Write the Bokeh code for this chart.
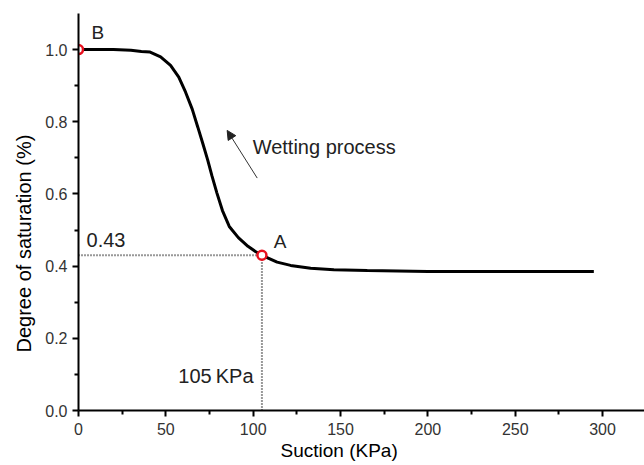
from bokeh.plotting import figure
from bokeh.models import (Range1d, FixedTicker, Label, Arrow, NormalHead, Title,
                          CustomJSTickFormatter)
from bokeh.embed import file_html
from bokeh.resources import INLINE

# Soil-water characteristic curve (wetting branch)
suction = [0, 10, 20, 30, 36, 41, 47, 52.7, 57.4, 61.3, 65.1, 68.3, 71.2, 73.9,
           76.4, 79.2, 82.4, 86.3, 91.5, 97.0, 101.5, 105, 113.7, 121.4, 132.9,
           146.2, 165.3, 200, 250, 295]
saturation = [1.0, 1.0, 1.0, 0.998, 0.995, 0.993, 0.980, 0.956, 0.924, 0.882,
              0.835, 0.785, 0.739, 0.695, 0.650, 0.603, 0.554, 0.510, 0.479,
              0.455, 0.440, 0.43, 0.411, 0.402, 0.394, 0.390, 0.388, 0.385,
              0.385, 0.385]

# Key points
point_names = ["B", "A"]
point_suction = [0, 105]
point_saturation = [1.0, 0.43]

x_ticks = [0, 50, 100, 150, 200, 250, 300]
x_minor = [25, 75, 125, 175, 225, 275, 325]
y_ticks = [0.0, 0.2, 0.4, 0.6, 0.8, 1.0]
y_minor = [0.1, 0.3, 0.5, 0.7, 0.9]

FONT = "Liberation Sans"

p = figure(width=644, height=465, output_backend="svg", toolbar_location=None,
           x_range=Range1d(0, 324), y_range=Range1d(0, 1.1),
           min_border_left=78, min_border_right=0, min_border_top=13,
           min_border_bottom=55)
p.outline_line_color = None
p.grid.grid_line_color = None
p.background_fill_color = "white"
p.border_fill_color = "white"

p.xaxis.ticker = FixedTicker(ticks=x_ticks, minor_ticks=x_minor)
p.yaxis.ticker = FixedTicker(ticks=y_ticks, minor_ticks=y_minor)
p.yaxis.formatter = CustomJSTickFormatter(code="return tick.toFixed(1);")
for ax in (p.xaxis, p.yaxis):
    ax.axis_line_width = 2
    ax.axis_line_color = "black"
    ax.major_tick_line_width = 2
    ax.major_tick_line_color = "black"
    ax.minor_tick_line_width = 2
    ax.minor_tick_line_color = "black"
    ax.major_tick_out = 6
    ax.major_tick_in = 0
    ax.minor_tick_out = 4
    ax.minor_tick_in = 0
    ax.major_label_text_font = FONT
    ax.major_label_text_font_size = "16px"
    ax.major_label_text_color = "#333333"
p.xaxis.major_label_standoff = 6
p.yaxis.major_label_standoff = 5

# Axis titles
p.add_layout(Title(text="Suction (KPa)", align="left", offset=202,
                   text_font=FONT, text_font_size="19px", text_font_style="normal",
                   text_color="black", standoff=0), "below")
p.add_layout(Title(text="Degree of saturation (%)", align="left", offset=58,
                   text_font=FONT, text_font_size="20px", text_font_style="normal",
                   text_color="black", standoff=16), "left")

# Guide lines to point A
p.line([point_suction[0], point_suction[1]], [point_saturation[1]] * 2,
       line_color="#333333", line_width=2, line_dash="1 2")
p.line([point_suction[1]] * 2, [0, point_saturation[1]],
       line_color="#333333", line_width=2, line_dash="1 2")

# Curve
p.line(suction, saturation, line_color="black", line_width=3)

# Markers
p.scatter(point_suction, point_saturation, marker="circle", size=9,
          fill_color="white", line_color="#e8101e", line_width=2.5)

# Annotations
p.add_layout(Label(x=7.4, y=1.019, text=point_names[0], text_font=FONT,
                   text_font_size="19px", text_color="#222222"))
p.add_layout(Label(x=111.7, y=0.438, text=point_names[1], text_font=FONT,
                   text_font_size="19px", text_color="#222222"))
p.add_layout(Label(x=4.6, y=0.452, text=f"{point_saturation[1]:.2f}", text_font=FONT,
                   text_font_size="20px", text_color="#222222"))
p.add_layout(Label(x=100.2, y=0.064, text=f"{point_suction[1]}\u2009KPa", text_font=FONT,
                   text_font_size="20px", text_color="#222222", text_align="right"))
p.add_layout(Label(x=99.7, y=0.70, text="Wetting process", text_font=FONT,
                   text_font_size="20px", text_color="#222222"))

# Arrow showing the process direction
p.add_layout(Arrow(x_start=102.3, y_start=0.644, x_end=85.1, y_end=0.776,
                   line_color="#333333", line_width=1,
                   end=NormalHead(size=9, fill_color="#222222", line_color="#222222")))

open("out.html", "w").write(file_html(p, INLINE))
